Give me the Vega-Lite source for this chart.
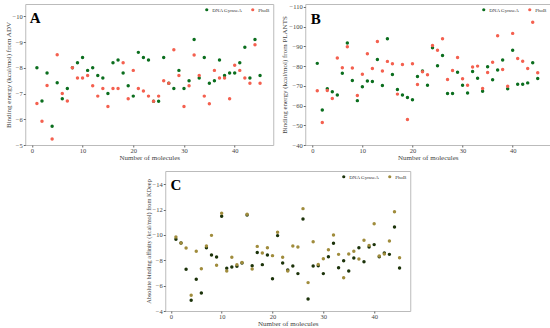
{
  "$schema": "https://vega.github.io/schema/vega-lite/v6.json",
  "padding": {"left": 3, "top": 3, "right": 2, "bottom": 0},
  "background": "white",
  "config": {
    "font": "Liberation Serif",
    "view": {"stroke": "#bbbbbb", "strokeWidth": 1},
    "axis": {"grid": false, "domain": false, "tickColor": "#666", "tickSize": 2, "tickCount": 20, "format": "d", "labelFont": "Liberation Serif", "labelFontSize": 6.5, "labelColor": "#444", "titleFont": "Liberation Serif", "titleFontSize": 7, "titleFontWeight": "normal", "titleColor": "#444", "labelPadding": 1, "titlePadding": 1, "labelOverlap": false},
    "axisX": {"labelPadding": 0, "titlePadding": 0},
    "legend": {"orient": "top-right", "direction": "horizontal", "title": null, "labelFont": "Liberation Serif", "labelFontSize": 5, "labelColor": "#333", "symbolSize": 10, "symbolType": "circle", "columnPadding": 8, "offset": 3, "padding": 0, "labelOffset": 3}
  },
  "datasets": {
    "A": [
      {"n":1,"s":"DNA GyraseA","v":-8.0},{"n":2,"s":"DNA GyraseA","v":-6.71},{"n":3,"s":"DNA GyraseA","v":-7.8},{"n":4,"s":"DNA GyraseA","v":-5.73},{"n":5,"s":"DNA GyraseA","v":-7.42},{"n":6,"s":"DNA GyraseA","v":-6.8},{"n":7,"s":"DNA GyraseA","v":-7.2},{"n":8,"s":"DNA GyraseA","v":-8.0},{"n":9,"s":"DNA GyraseA","v":-8.2},{"n":10,"s":"DNA GyraseA","v":-8.4},
      {"n":11,"s":"DNA GyraseA","v":-7.9},{"n":12,"s":"DNA GyraseA","v":-8.0},{"n":13,"s":"DNA GyraseA","v":-7.7},{"n":14,"s":"DNA GyraseA","v":-7.6},{"n":15,"s":"DNA GyraseA","v":-7.0},{"n":16,"s":"DNA GyraseA","v":-8.2},{"n":17,"s":"DNA GyraseA","v":-8.3},{"n":18,"s":"DNA GyraseA","v":-7.8},{"n":19,"s":"DNA GyraseA","v":-7.3},{"n":20,"s":"DNA GyraseA","v":-6.9},
      {"n":21,"s":"DNA GyraseA","v":-8.6},{"n":22,"s":"DNA GyraseA","v":-8.4},{"n":23,"s":"DNA GyraseA","v":-8.3},{"n":24,"s":"DNA GyraseA","v":-6.7},{"n":25,"s":"DNA GyraseA","v":-6.7},{"n":26,"s":"DNA GyraseA","v":-8.4},{"n":27,"s":"DNA GyraseA","v":-7.4},{"n":28,"s":"DNA GyraseA","v":-7.2},{"n":29,"s":"DNA GyraseA","v":-7.9},{"n":30,"s":"DNA GyraseA","v":-7.2},
      {"n":31,"s":"DNA GyraseA","v":-7.5},{"n":32,"s":"DNA GyraseA","v":-9.1},{"n":33,"s":"DNA GyraseA","v":-7.6},{"n":34,"s":"DNA GyraseA","v":-8.4},{"n":35,"s":"DNA GyraseA","v":-7.4},{"n":36,"s":"DNA GyraseA","v":-7.5},{"n":37,"s":"DNA GyraseA","v":-8.3},{"n":38,"s":"DNA GyraseA","v":-7.7},{"n":39,"s":"DNA GyraseA","v":-7.8},{"n":40,"s":"DNA GyraseA","v":-7.8},
      {"n":41,"s":"DNA GyraseA","v":-8.2},{"n":42,"s":"DNA GyraseA","v":-8.8},{"n":43,"s":"DNA GyraseA","v":-7.6},{"n":44,"s":"DNA GyraseA","v":-9.1},{"n":45,"s":"DNA GyraseA","v":-7.7},
      {"n":1,"s":"PhoB","v":-6.61},{"n":2,"s":"PhoB","v":-5.92},{"n":3,"s":"PhoB","v":-7.31},{"n":4,"s":"PhoB","v":-5.23},{"n":5,"s":"PhoB","v":-8.51},{"n":6,"s":"PhoB","v":-7.0},{"n":7,"s":"PhoB","v":-6.71},{"n":8,"s":"PhoB","v":-8.0},{"n":9,"s":"PhoB","v":-7.6},{"n":10,"s":"PhoB","v":-7.6},
      {"n":11,"s":"PhoB","v":-7.7},{"n":12,"s":"PhoB","v":-7.3},{"n":13,"s":"PhoB","v":-6.9},{"n":14,"s":"PhoB","v":-7.2},{"n":15,"s":"PhoB","v":-6.5},{"n":16,"s":"PhoB","v":-7.2},{"n":17,"s":"PhoB","v":-7.2},{"n":18,"s":"PhoB","v":-8.2},{"n":19,"s":"PhoB","v":-6.8},{"n":20,"s":"PhoB","v":-7.9},
      {"n":21,"s":"PhoB","v":-7.2},{"n":22,"s":"PhoB","v":-7.1},{"n":23,"s":"PhoB","v":-6.9},{"n":24,"s":"PhoB","v":-6.7},{"n":25,"s":"PhoB","v":-6.9},{"n":26,"s":"PhoB","v":-7.5},{"n":27,"s":"PhoB","v":-7.4},{"n":28,"s":"PhoB","v":-8.7},{"n":29,"s":"PhoB","v":-7.7},{"n":30,"s":"PhoB","v":-6.5},
      {"n":31,"s":"PhoB","v":-7.3},{"n":32,"s":"PhoB","v":-8.5},{"n":33,"s":"PhoB","v":-7.7},{"n":34,"s":"PhoB","v":-6.9},{"n":35,"s":"PhoB","v":-6.6},{"n":36,"s":"PhoB","v":-7.9},{"n":37,"s":"PhoB","v":-7.6},{"n":38,"s":"PhoB","v":-7.6},{"n":39,"s":"PhoB","v":-6.8},{"n":40,"s":"PhoB","v":-8.1},
      {"n":41,"s":"PhoB","v":-7.9},{"n":42,"s":"PhoB","v":-7.6},{"n":43,"s":"PhoB","v":-7.4},{"n":44,"s":"PhoB","v":-8.9},{"n":45,"s":"PhoB","v":-7.4}
    ],
    "B": [
      {"n":1,"s":"DNA GyraseA","v":-81.4},{"n":2,"s":"DNA GyraseA","v":-57.8},{"n":3,"s":"DNA GyraseA","v":-68.5},{"n":4,"s":"DNA GyraseA","v":-67.0},{"n":5,"s":"DNA GyraseA","v":-65.4},{"n":6,"s":"DNA GyraseA","v":-76.4},{"n":7,"s":"DNA GyraseA","v":-91.7},{"n":8,"s":"DNA GyraseA","v":-72.7},{"n":9,"s":"DNA GyraseA","v":-62.5},{"n":10,"s":"DNA GyraseA","v":-69.5},
      {"n":11,"s":"DNA GyraseA","v":-72.5},{"n":12,"s":"DNA GyraseA","v":-72.2},{"n":13,"s":"DNA GyraseA","v":-83.4},{"n":14,"s":"DNA GyraseA","v":-70.2},{"n":15,"s":"DNA GyraseA","v":-93.9},{"n":16,"s":"DNA GyraseA","v":-75.8},{"n":17,"s":"DNA GyraseA","v":-68.1},{"n":18,"s":"DNA GyraseA","v":-65.4},{"n":19,"s":"DNA GyraseA","v":-64.1},{"n":20,"s":"DNA GyraseA","v":-62.9},
      {"n":21,"s":"DNA GyraseA","v":-74.7},{"n":22,"s":"DNA GyraseA","v":-77.5},{"n":23,"s":"DNA GyraseA","v":-70.3},{"n":24,"s":"DNA GyraseA","v":-89.3},{"n":25,"s":"DNA GyraseA","v":-80.2},{"n":26,"s":"DNA GyraseA","v":-85.4},{"n":27,"s":"DNA GyraseA","v":-66.1},{"n":28,"s":"DNA GyraseA","v":-66.1},{"n":29,"s":"DNA GyraseA","v":-76.9},{"n":30,"s":"DNA GyraseA","v":-70.3},
      {"n":31,"s":"DNA GyraseA","v":-66.4},{"n":32,"s":"DNA GyraseA","v":-77.3},{"n":33,"s":"DNA GyraseA","v":-73.9},{"n":34,"s":"DNA GyraseA","v":-67.3},{"n":35,"s":"DNA GyraseA","v":-79.7},{"n":36,"s":"DNA GyraseA","v":-73.1},{"n":37,"s":"DNA GyraseA","v":-78.0},{"n":38,"s":"DNA GyraseA","v":-83.1},{"n":39,"s":"DNA GyraseA","v":-68.5},{"n":40,"s":"DNA GyraseA","v":-88.0},
      {"n":41,"s":"DNA GyraseA","v":-70.8},{"n":42,"s":"DNA GyraseA","v":-70.8},{"n":43,"s":"DNA GyraseA","v":-71.5},{"n":44,"s":"DNA GyraseA","v":-81.7},{"n":45,"s":"DNA GyraseA","v":-73.7},
      {"n":1,"s":"PhoB","v":-67.5},{"n":2,"s":"PhoB","v":-51.4},{"n":3,"s":"PhoB","v":-67.6},{"n":4,"s":"PhoB","v":-63.6},{"n":5,"s":"PhoB","v":-84.1},{"n":6,"s":"PhoB","v":-79.2},{"n":7,"s":"PhoB","v":-89.8},{"n":8,"s":"PhoB","v":-79.0},{"n":9,"s":"PhoB","v":-65.1},{"n":10,"s":"PhoB","v":-75.9},
      {"n":11,"s":"PhoB","v":-86.3},{"n":12,"s":"PhoB","v":-78.8},{"n":13,"s":"PhoB","v":-92.5},{"n":14,"s":"PhoB","v":-77.5},{"n":15,"s":"PhoB","v":-82.4},{"n":16,"s":"PhoB","v":-81.2},{"n":17,"s":"PhoB","v":-65.8},{"n":18,"s":"PhoB","v":-80.8},{"n":19,"s":"PhoB","v":-52.9},{"n":20,"s":"PhoB","v":-81.2},
      {"n":21,"s":"PhoB","v":-70.7},{"n":22,"s":"PhoB","v":-77.1},{"n":23,"s":"PhoB","v":-75.6},{"n":24,"s":"PhoB","v":-90.5},{"n":25,"s":"PhoB","v":-88.0},{"n":26,"s":"PhoB","v":-93.9},{"n":27,"s":"PhoB","v":-73.2},{"n":28,"s":"PhoB","v":-77.8},{"n":29,"s":"PhoB","v":-84.4},{"n":30,"s":"PhoB","v":-73.6},
      {"n":31,"s":"PhoB","v":-70.3},{"n":32,"s":"PhoB","v":-79.5},{"n":33,"s":"PhoB","v":-80.0},{"n":34,"s":"PhoB","v":-68.6},{"n":35,"s":"PhoB","v":-76.8},{"n":36,"s":"PhoB","v":-82.0},{"n":37,"s":"PhoB","v":-95.4},{"n":38,"s":"PhoB","v":-78.3},{"n":39,"s":"PhoB","v":-69.8},{"n":40,"s":"PhoB","v":-96.6},
      {"n":41,"s":"PhoB","v":-83.9},{"n":42,"s":"PhoB","v":-82.5},{"n":43,"s":"PhoB","v":-78.8},{"n":44,"s":"PhoB","v":-102.2},{"n":45,"s":"PhoB","v":-76.6}
    ],
    "C": [
      {"n":1,"s":"DNA GyraseA","v":-9.66},{"n":2,"s":"DNA GyraseA","v":-9.37},{"n":3,"s":"DNA GyraseA","v":-7.29},{"n":4,"s":"DNA GyraseA","v":-4.84},{"n":5,"s":"DNA GyraseA","v":-6.5},{"n":6,"s":"DNA GyraseA","v":-5.42},{"n":7,"s":"DNA GyraseA","v":-9.0},{"n":8,"s":"DNA GyraseA","v":-8.42},{"n":9,"s":"DNA GyraseA","v":-8.26},{"n":10,"s":"DNA GyraseA","v":-11.47},
      {"n":11,"s":"DNA GyraseA","v":-7.37},{"n":12,"s":"DNA GyraseA","v":-7.47},{"n":13,"s":"DNA GyraseA","v":-7.53},{"n":14,"s":"DNA GyraseA","v":-7.79},{"n":15,"s":"DNA GyraseA","v":-11.58},{"n":16,"s":"DNA GyraseA","v":-7.58},{"n":17,"s":"DNA GyraseA","v":-8.61},{"n":18,"s":"DNA GyraseA","v":-7.66},{"n":19,"s":"DNA GyraseA","v":-8.42},{"n":20,"s":"DNA GyraseA","v":-6.55},
      {"n":21,"s":"DNA GyraseA","v":-9.95},{"n":22,"s":"DNA GyraseA","v":-7.79},{"n":23,"s":"DNA GyraseA","v":-7.24},{"n":24,"s":"DNA GyraseA","v":-7.55},{"n":25,"s":"DNA GyraseA","v":-6.95},{"n":26,"s":"DNA GyraseA","v":-11.26},{"n":27,"s":"DNA GyraseA","v":-4.95},{"n":28,"s":"DNA GyraseA","v":-7.55},{"n":29,"s":"DNA GyraseA","v":-7.58},{"n":30,"s":"DNA GyraseA","v":-6.95},
      {"n":31,"s":"DNA GyraseA","v":-8.29},{"n":32,"s":"DNA GyraseA","v":-9.34},{"n":33,"s":"DNA GyraseA","v":-7.42},{"n":34,"s":"DNA GyraseA","v":-7.97},{"n":35,"s":"DNA GyraseA","v":-7.16},{"n":36,"s":"DNA GyraseA","v":-8.18},{"n":37,"s":"DNA GyraseA","v":-9.0},{"n":38,"s":"DNA GyraseA","v":-7.89},{"n":39,"s":"DNA GyraseA","v":-9.05},{"n":40,"s":"DNA GyraseA","v":-9.24},
      {"n":41,"s":"DNA GyraseA","v":-8.29},{"n":42,"s":"DNA GyraseA","v":-8.58},{"n":43,"s":"DNA GyraseA","v":-8.47},{"n":44,"s":"DNA GyraseA","v":-10.63},{"n":45,"s":"DNA GyraseA","v":-7.39},
      {"n":1,"s":"PhoB","v":-9.84},{"n":2,"s":"PhoB","v":-9.37},{"n":3,"s":"PhoB","v":-8.97},{"n":4,"s":"PhoB","v":-5.24},{"n":5,"s":"PhoB","v":-8.71},{"n":6,"s":"PhoB","v":-7.34},{"n":7,"s":"PhoB","v":-9.13},{"n":8,"s":"PhoB","v":-9.97},{"n":9,"s":"PhoB","v":-7.61},{"n":10,"s":"PhoB","v":-11.71},
      {"n":11,"s":"PhoB","v":-7.16},{"n":12,"s":"PhoB","v":-8.24},{"n":13,"s":"PhoB","v":-7.66},{"n":14,"s":"PhoB","v":-7.82},{"n":15,"s":"PhoB","v":-11.63},{"n":16,"s":"PhoB","v":-7.32},{"n":17,"s":"PhoB","v":-9.1},{"n":18,"s":"PhoB","v":-8.58},{"n":19,"s":"PhoB","v":-9.0},{"n":20,"s":"PhoB","v":-8.37},
      {"n":21,"s":"PhoB","v":-10.21},{"n":22,"s":"PhoB","v":-8.24},{"n":23,"s":"PhoB","v":-7.16},{"n":24,"s":"PhoB","v":-9.13},{"n":25,"s":"PhoB","v":-9.05},{"n":26,"s":"PhoB","v":-12.08},{"n":27,"s":"PhoB","v":-6.24},{"n":28,"s":"PhoB","v":-9.47},{"n":29,"s":"PhoB","v":-7.68},{"n":30,"s":"PhoB","v":-8.13},
      {"n":31,"s":"PhoB","v":-8.84},{"n":32,"s":"PhoB","v":-10.0},{"n":33,"s":"PhoB","v":-8.47},{"n":34,"s":"PhoB","v":-6.63},{"n":35,"s":"PhoB","v":-8.5},{"n":36,"s":"PhoB","v":-8.71},{"n":37,"s":"PhoB","v":-8.1},{"n":38,"s":"PhoB","v":-9.58},{"n":39,"s":"PhoB","v":-9.18},{"n":40,"s":"PhoB","v":-10.89},
      {"n":41,"s":"PhoB","v":-8.34},{"n":42,"s":"PhoB","v":-8.5},{"n":43,"s":"PhoB","v":-9.53},{"n":44,"s":"PhoB","v":-11.84},{"n":45,"s":"PhoB","v":-8.21}
    ]
  },
  "vconcat": [
    {
      "hconcat": [
        {
          "width": 248, "height": 141,
          "layer": [
            {
              "data": {"name": "A"},
              "mark": {"type": "circle", "size": 12, "opacity": 1},
              "encoding": {
                "x": {"field": "n", "type": "quantitative", "title": "Number of molecules", "scale": {"domain": [-1.3, 47.6], "nice": false}, "axis": {"values": [0, 10, 20, 30, 40], "tickCount": 20, "format": "d"}},
                "y": {"field": "v", "type": "quantitative", "title": "Binding energy (kcal/mol) from ADV", "scale": {"domain": [-10.48, -5], "nice": false, "reverse": true, "zero": false}, "axis": {"values": [-10, -9, -8, -7, -6, -5], "tickCount": 20, "format": "d"}},
                "color": {"field": "s", "type": "nominal", "scale": {"domain": ["DNA GyraseA", "PhoB"], "range": ["#0b6e1e", "#f4604f"]}, "legend": {"orient": "top-right"}}
              }
            },
            {
              "data": {"values": [{"x": 0.66, "y": -9.95, "t": "A"}]},
              "mark": {"type": "text", "font": "Liberation Serif", "fontWeight": "bold", "fontSize": 15, "baseline": "middle", "align": "center", "color": "#000"},
              "encoding": {"x": {"field": "x", "type": "quantitative"}, "y": {"field": "y", "type": "quantitative"}, "text": {"field": "t"}}
            }
          ]
        },
        {
          "width": 245, "height": 141,
          "layer": [
            {
              "data": {"name": "B"},
              "mark": {"type": "circle", "size": 12, "opacity": 1},
              "encoding": {
                "x": {"field": "n", "type": "quantitative", "title": "Number of molecules", "scale": {"domain": [-1.4, 47.5], "nice": false}, "axis": {"values": [0, 10, 20, 30, 40], "tickCount": 20, "format": "d"}},
                "y": {"field": "v", "type": "quantitative", "title": "Binding energy (kcal/mol) from PLANTS", "scale": {"domain": [-111.5, -40], "nice": false, "reverse": true, "zero": false}, "axis": {"values": [-110, -100, -90, -80, -70, -60, -50, -40], "tickCount": 20, "format": "d"}},
                "color": {"field": "s", "type": "nominal", "scale": {"domain": ["DNA GyraseA", "PhoB"], "range": ["#0b6e1e", "#f4604f"]}, "legend": {"orient": "top-right"}}
              }
            },
            {
              "data": {"values": [{"x": 0.7, "y": -104.1, "t": "B"}]},
              "mark": {"type": "text", "font": "Liberation Serif", "fontWeight": "bold", "fontSize": 15, "baseline": "middle", "align": "center", "color": "#000"},
              "encoding": {"x": {"field": "x", "type": "quantitative"}, "y": {"field": "y", "type": "quantitative"}, "text": {"field": "t"}}
            }
          ]
        }
      ],
      "spacing": 6,
      "resolve": {"scale": {"color": "independent"}, "legend": {"color": "independent"}}
    },
    {
      "width": 245, "height": 140,
      "layer": [
        {
          "data": {"name": "C"},
          "mark": {"type": "circle", "size": 12, "opacity": 1},
          "encoding": {
            "x": {"field": "n", "type": "quantitative", "title": "Number of molecules", "scale": {"domain": [-1.1, 47.1], "nice": false}, "axis": {"values": [0, 10, 20, 30, 40], "tickCount": 20, "format": "d"}},
            "y": {"field": "v", "type": "quantitative", "title": "Absolute binding affinity (kcal/mol) from KDeep", "scale": {"domain": [-15.05, -4], "nice": false, "reverse": true, "zero": false}, "axis": {"values": [-14, -12, -10, -8, -6, -4], "tickCount": 20, "format": "d", "titleFontSize": 6.3}},
            "color": {"field": "s", "type": "nominal", "scale": {"domain": ["DNA GyraseA", "PhoB"], "range": ["#1c330a", "#a08c3c"]}, "legend": {"orient": "top-right"}}
          }
        },
        {
          "data": {"values": [{"x": 1.0, "y": -13.92, "t": "C"}]},
          "mark": {"type": "text", "font": "Liberation Serif", "fontWeight": "bold", "fontSize": 15, "baseline": "middle", "align": "center", "color": "#000"},
          "encoding": {"x": {"field": "x", "type": "quantitative"}, "y": {"field": "y", "type": "quantitative"}, "text": {"field": "t"}}
        }
      ]
    }
  ],
  "spacing": 9,
  "center": true,
  "resolve": {"scale": {"color": "independent"}, "legend": {"color": "independent"}}
}
